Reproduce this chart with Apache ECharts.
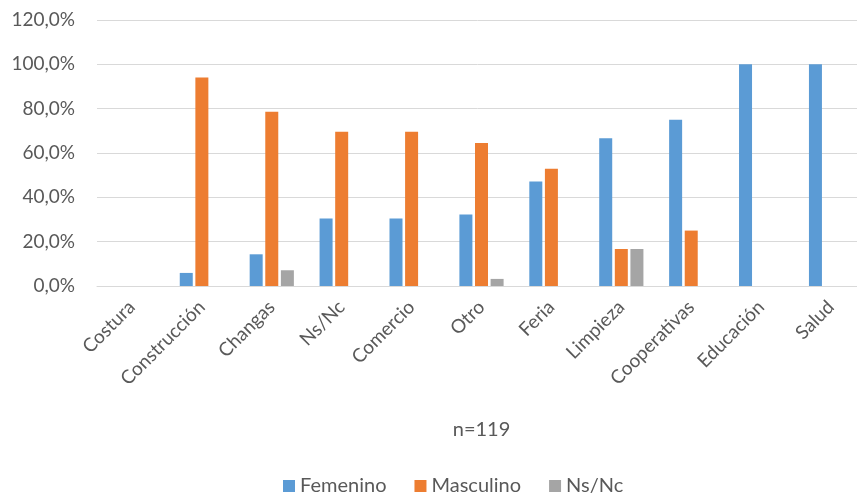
<!DOCTYPE html>
<html>
<head>
<meta charset="utf-8">
<script src="https://cdn.jsdelivr.net/npm/echarts@6/dist/echarts.min.js"></script>
<style>
  html, body { margin: 0; padding: 0; background: #ffffff; }
  #chart { width: 857px; height: 502px; }
</style>
</head>
<body>
<div id="chart"></div>
<script>
// Rubros de trabajo y distribución por género (proporción de cada rubro)
const categories = ['Costura', 'Construcción', 'Changas', 'Ns/Nc', 'Comercio', 'Otro', 'Feria', 'Limpieza', 'Cooperativas', 'Educación', 'Salud'];
const femenino  = [0, 0.059, 0.143, 0.304, 0.304, 0.323, 0.471, 0.667, 0.75, 1.0, 1.0];
const masculino = [0, 0.941, 0.786, 0.696, 0.696, 0.645, 0.529, 0.167, 0.25, 0, 0];
const nsnc      = [0, 0, 0.071, 0, 0, 0.032, 0, 0.167, 0, 0, 0];
const seriesNames = ['Femenino', 'Masculino', 'Ns/Nc'];
const yTicks = { min: 0, max: 1.2, step: 0.2 };
const sampleLabel = 'n=119';

const colors = ['#5B9BD5', '#ED7D31', '#A5A5A5'];
const font = 'Lato, "Open Sans", sans-serif';
const textColor = '#595959';

const chart = echarts.init(document.getElementById('chart'));

function pct(v) {
  return (v * 100).toFixed(1).replace('.', ',') + '%';
}

const values = [femenino, masculino, nsnc];

chart.setOption({
  animation: false,
  color: colors,
  // plot area runs slightly past the right edge of the canvas
  grid: {
    left: 97, width: 769, top: 20, bottom: 216,
    containLabel: false,
    outerBoundsMode: 'none'
  },
  xAxis: {
    type: 'category',
    data: categories,
    axisLine: { lineStyle: { color: '#D9D9D9', width: 1 } },
    axisTick: { show: false },
    axisLabel: {
      rotate: 45,
      interval: 0,
      margin: 18,
      color: textColor,
      fontFamily: font,
      fontSize: 19
    },
    name: sampleLabel,
    nameLocation: 'middle',
    nameGap: 134,
    nameTextStyle: { color: textColor, fontFamily: font, fontSize: 20 }
  },
  yAxis: {
    type: 'value',
    min: yTicks.min,
    max: yTicks.max,
    interval: yTicks.step,
    axisLine: { show: false },
    axisTick: { show: false },
    splitLine: { lineStyle: { color: '#D9D9D9', width: 1 } },
    axisLabel: {
      margin: 22,
      color: textColor,
      fontFamily: font,
      fontSize: 19,
      formatter: pct
    }
  },
  legend: {
    left: 278,
    bottom: 1,
    icon: 'rect',
    itemWidth: 12,
    itemHeight: 12,
    itemGap: 28,
    textStyle: { color: textColor, fontFamily: font, fontSize: 20 },
    data: seriesNames
  },
  series: seriesNames.map((name, i) => ({
    name,
    type: 'bar',
    data: values[i],
    barWidth: 13,
    barGap: '20%'
  }))
});
</script>
</body>
</html>
